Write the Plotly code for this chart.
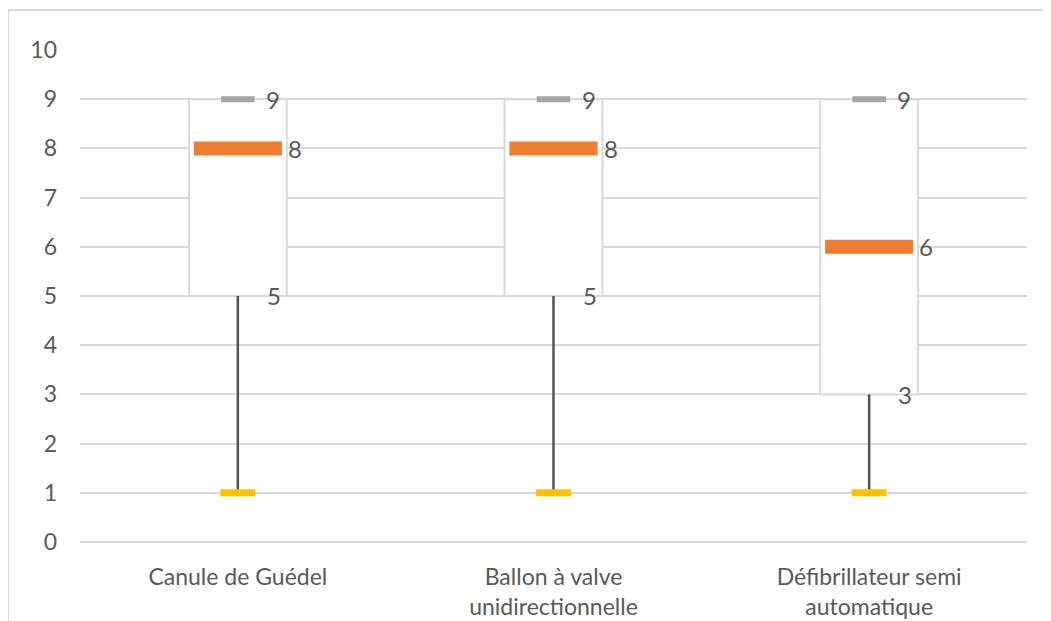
import plotly.graph_objects as go

categories = ["Canule de Guédel", "Ballon à valve<br>unidirectionnelle", "Défibrillateur semi<br>automatique"]
min_vals = [1, 1, 1]
q1_vals = [5, 5, 3]
median_vals = [8, 8, 6]
max_vals = [9, 9, 9]
y_ticks = list(range(0, 11))

FONT = "Lato"
TXT = "#595959"
GRID = "#d9d9d9"

fig = go.Figure()

# box body (q1 -> max)
fig.add_trace(go.Bar(
    x=categories, base=q1_vals, y=[m - q for m, q in zip(max_vals, q1_vals)],
    width=0.31, marker=dict(color="white", line=dict(color=GRID, width=2)),
    hoverinfo="skip", showlegend=False,
))

# whiskers (min -> q1)
wx, wy = [], []
for c, mn, q in zip(categories, min_vals, q1_vals):
    wx += [c, c, None]
    wy += [mn, q, None]
fig.add_trace(go.Scatter(x=wx, y=wy, mode="lines", line=dict(color="#505050", width=2.5),
                         hoverinfo="skip", showlegend=False))

# max marker
fig.add_trace(go.Scatter(x=categories, y=max_vals, mode="markers",
                         marker=dict(symbol="line-ew", size=24, color="#A5A5A5",
                                     line=dict(color="#A5A5A5", width=6)),
                         showlegend=False))
# median marker
fig.add_trace(go.Scatter(x=categories, y=median_vals, mode="markers",
                         marker=dict(symbol="line-ew", size=63, color="#ED7D31",
                                     line=dict(color="#ED7D31", width=14)),
                         showlegend=False))
# min marker
fig.add_trace(go.Scatter(x=categories, y=min_vals, mode="markers",
                         marker=dict(symbol="line-ew", size=25, color="#FFC000",
                                     line=dict(color="#FFC000", width=7)),
                         showlegend=False))

annotations = []
for c, q, md, mx in zip(categories, q1_vals, median_vals, max_vals):
    for val, shift in ((mx, 26), (md, 48), (q, 27)):
        annotations.append(dict(x=c, y=val, xref="x", yref="y", text=str(val),
                                showarrow=False, xanchor="left", yanchor="middle",
                                xshift=shift, font=dict(family=FONT, size=24, color=TXT)))

fig.update_layout(
    width=1043, height=613,
    margin=dict(l=72, r=24, t=41, b=79),
    paper_bgcolor="white", plot_bgcolor="white",
    barmode="overlay",
    font=dict(family=FONT, size=24, color=TXT),
    annotations=annotations,
    shapes=[dict(type="rect", xref="paper", yref="paper",
                 x0=(0 - 72) / 947, x1=1.1, y0=-0.2, y1=1 + 39 / 493,
                 line=dict(color=GRID, width=2), layer="below")],
)
fig.update_yaxes(range=[0, 10.02], tickvals=y_ticks, showgrid=True, gridcolor=GRID, gridwidth=1.5,
                 zeroline=True, zerolinecolor=GRID, zerolinewidth=1.5, showline=False,
                 automargin=False,
                 ticklabelstandoff=22, tickfont=dict(size=23, color=TXT, family=FONT))
fig.update_xaxes(range=[-0.5, 2.5], showgrid=False, showline=False, zeroline=False,
                 automargin=False,
                 ticklabelstandoff=19, tickfont=dict(size=23, color=TXT, family=FONT))

fig.write_html("out.html")
